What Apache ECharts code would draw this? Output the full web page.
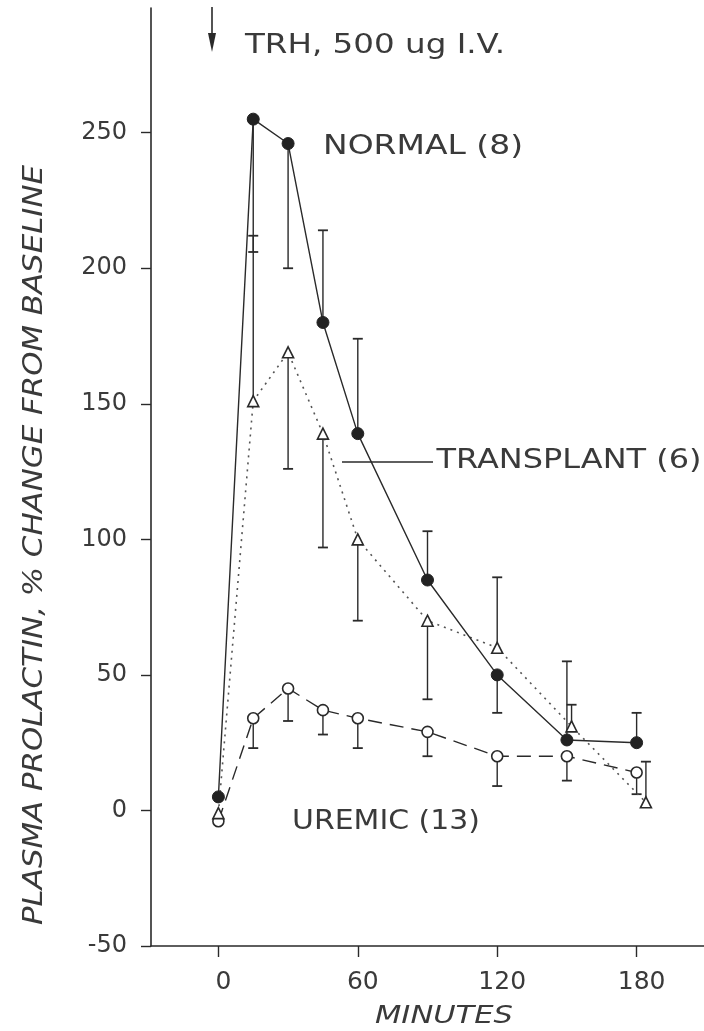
<!DOCTYPE html>
<html>
<head>
<meta charset="utf-8">
<script src="https://cdn.jsdelivr.net/npm/echarts@6/dist/echarts.min.js"></script>
<style>
  html, body { margin: 0; padding: 0; background: #fff; }
  #chart { width: 704px; height: 1031px; }
</style>
</head>
<body>
<div id="chart"></div>
<script>
// minutes after TRH injection
const minutes = [0, 15, 30, 45, 60, 90, 120, 150, 180];
// transplant triangles are drawn a little to the right at the end
const transplantMinutes = [0, 15, 30, 45, 60, 90, 120, 152, 184];

// % change from baseline
const normal = [5, 255, 246, 180, 139, 85, 50, 26, 25];
const transplant = [-1, 151, 169, 139, 100, 70, 60, 31, 3];
const uremic = [-4, 34, 45, 37, 34, 29, 20, 20, 14];

// end of each (one-sided) error bar, null = none drawn
const normalBarEnd = [null, 206, 200, 214, 174, 103, 36, 55, 36];
const transplantBarEnd = [null, 212, 126, 97, 70, 41, 86, 39, 18];
const uremicBarEnd = [null, 23, 33, 28, 23, 20, 9, 11, 6];

const yTicks = [-50, 0, 50, 100, 150, 200, 250];
const xTicks = [0, 60, 120, 180];

const INK = '#2a2a2a';
const TEXT = '#3a3a3a';
const FONT = 'DejaVu Sans';

const chart = echarts.init(document.getElementById('chart'));

function pairs(xs, ys) {
  return xs.map((x, i) => [x, ys[i]]);
}

function errorBars(name, xs, ys, ends) {
  const data = [];
  xs.forEach((x, i) => {
    if (ends[i] != null) data.push([x, ys[i], ends[i]]);
  });
  return {
    name: name + ' SE',
    type: 'custom',
    z: 1,
    silent: true,
    encode: { x: 0, y: [1, 2] },
    data: data,
    renderItem: (params, api) => {
      const p0 = api.coord([api.value(0), api.value(1)]);
      const p1 = api.coord([api.value(0), api.value(2)]);
      const hw = 5;
      return {
        type: 'group',
        children: [
          { type: 'line', shape: { x1: p0[0], y1: p0[1], x2: p1[0], y2: p1[1] },
            style: { stroke: INK, lineWidth: 1.4 } },
          { type: 'line', shape: { x1: p1[0] - hw, y1: p1[1], x2: p1[0] + hw, y2: p1[1] },
            style: { stroke: INK, lineWidth: 1.8 } }
        ]
      };
    }
  };
}

// stretch a text horizontally so it covers the width it has in the scan
const measureCtx = document.createElement('canvas').getContext('2d');
function label(text, x, y, size, width, opts) {
  opts = opts || {};
  const font = (opts.italic ? 'italic ' : '') + size + 'px "' + FONT + '"';
  measureCtx.font = font;
  const w = measureCtx.measureText(text).width;
  return {
    type: 'text',
    x: x,
    y: y,
    rotation: opts.rotation || 0,
    scaleX: width / w,
    silent: true,
    style: {
      text: text,
      font: font,
      fill: TEXT,
      align: 'center',
      verticalAlign: 'middle'
    }
  };
}

const option = {
  animation: false,
  backgroundColor: '#fff',
  grid: { left: 151, right: 0, top: 8, bottom: 85, containLabel: false },
  xAxis: {
    type: 'value',
    min: -29,
    max: 209,
    axisLine: { onZero: false, lineStyle: { color: INK, width: 1.6 } },
    axisTick: { length: 11, customValues: xTicks, lineStyle: { color: INK, width: 1.4 } },
    axisLabel: {
      customValues: xTicks,
      margin: 24,
      padding: [0, 0, 0, 10],
      fontFamily: FONT,
      fontSize: 25,
      color: TEXT
    },
    splitLine: { show: false }
  },
  yAxis: {
    type: 'value',
    min: -50,
    max: 296,
    axisLine: { show: true, onZero: false, lineStyle: { color: INK, width: 1.6 } },
    axisTick: { show: true, length: 10, customValues: yTicks, lineStyle: { color: INK, width: 1.4 } },
    axisLabel: {
      customValues: yTicks,
      margin: 24,
      fontFamily: FONT,
      fontSize: 24,
      color: TEXT
    },
    splitLine: { show: false }
  },
  series: [
    errorBars('Uremic', minutes, uremic, uremicBarEnd),
    errorBars('Transplant', transplantMinutes, transplant, transplantBarEnd),
    errorBars('Normal', minutes, normal, normalBarEnd),
    {
      name: 'Uremic',
      type: 'line',
      z: 3,
      data: pairs(minutes, uremic),
      symbol: 'circle',
      symbolSize: 11,
      lineStyle: { color: INK, width: 1.4, type: [14, 8] },
      itemStyle: { color: '#fff', borderColor: INK, borderWidth: 1.6 }
    },
    {
      name: 'Transplant',
      type: 'line',
      z: 4,
      data: pairs(transplantMinutes, transplant),
      symbol: 'triangle',
      symbolSize: 11,
      lineStyle: { color: '#555', width: 1.6, type: [2, 5] },
      itemStyle: { color: '#fff', borderColor: INK, borderWidth: 1.6 }
    },
    {
      name: 'Normal',
      type: 'line',
      z: 5,
      data: pairs(minutes, normal),
      symbol: 'circle',
      symbolSize: 12,
      lineStyle: { color: INK, width: 1.4 },
      itemStyle: { color: '#222', borderColor: '#222', borderWidth: 1 }
    }
  ],
  graphic: [
    // axis titles
    label('PLASMA PROLACTIN, % CHANGE FROM BASELINE', 35, 545, 26, 760,
      { italic: true, rotation: Math.PI / 2 }),
    label('MINUTES', 444, 1016, 25, 138, { italic: true }),
    // annotations
    label('TRH, 500 ug I.V.', 375, 46, 26, 260),
    label('NORMAL (8)', 423, 147, 26, 200),
    label('TRANSPLANT (6)', 569, 461, 27, 265),
    label('UREMIC (13)', 386, 822, 27, 188),
    // injection arrow
    { type: 'line', silent: true, shape: { x1: 212, y1: 7, x2: 212, y2: 40 },
      style: { stroke: INK, lineWidth: 1.6 } },
    { type: 'polygon', silent: true,
      shape: { points: [[208, 33], [216, 33], [212, 52]] },
      style: { fill: INK } },
    // leader line for the transplant label
    { type: 'line', silent: true, shape: { x1: 342, y1: 462, x2: 433, y2: 462 },
      style: { stroke: INK, lineWidth: 1.4 } }
  ]
};

chart.setOption(option);
</script>
</body>
</html>
